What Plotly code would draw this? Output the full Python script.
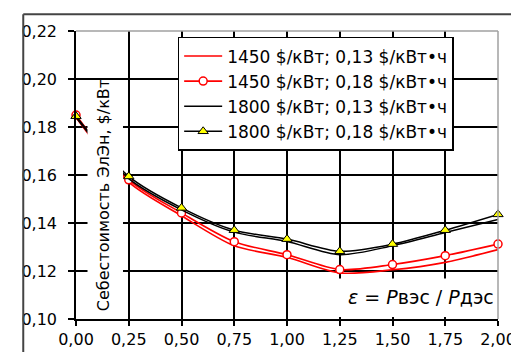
import plotly.graph_objects as go

x_vals = [0, 0.25, 0.5, 0.75, 1.0, 1.25, 1.5, 1.75, 2.0]
s_1450_013 = [0.184, 0.157, 0.143, 0.1305, 0.1257, 0.1192, 0.1205, 0.1236, 0.1289]
s_1450_018 = [0.185, 0.158, 0.1442, 0.1322, 0.1268, 0.1206, 0.1227, 0.1264, 0.1312]
s_1800_013 = [0.184, 0.1585, 0.1455, 0.1362, 0.1323, 0.1268, 0.1305, 0.136, 0.1415]
s_1800_018 = [0.1845, 0.1594, 0.1463, 0.137, 0.1333, 0.1282, 0.1312, 0.137, 0.1436]
names = ["1450 $/кВт; 0,13 $/кВт•ч", "1450 $/кВт; 0,18 $/кВт•ч",
         "1800 $/кВт; 0,13 $/кВт•ч", "1800 $/кВт; 0,18 $/кВт•ч"]
x_ticks = [0, 0.25, 0.5, 0.75, 1.0, 1.25, 1.5, 1.75, 2.0]
y_ticks = [0.10, 0.12, 0.14, 0.16, 0.18, 0.20, 0.22]
y_title = "Себестоимость ЭлЭн, $/кВт"

FONT = "DejaVu Sans"
W, H = 519, 352
L, R, T, B = 68, 11, 23, 38
PW, PH = W - L - R, H - T - B

def px(xp):
    return (xp - L) / PW

def py(yp):
    return (H - B - yp) / PH

fig = go.Figure()
fig.add_trace(go.Scatter(x=x_vals, y=s_1450_013, name=names[0], mode="lines", cliponaxis=False,
                         line=dict(color="#ff0000", width=1.6, shape="spline", smoothing=0.8)))
fig.add_trace(go.Scatter(x=x_vals, y=s_1450_018, name=names[1], mode="lines+markers", cliponaxis=False,
                         line=dict(color="#ff0000", width=1.6, shape="spline", smoothing=0.8),
                         marker=dict(symbol="circle", size=8, color="white",
                                     line=dict(color="#ff0000", width=1.5))))
fig.add_trace(go.Scatter(x=x_vals, y=s_1800_013, name=names[2], mode="lines", cliponaxis=False,
                         line=dict(color="#000000", width=1.5, shape="spline", smoothing=0.8)))
fig.add_trace(go.Scatter(x=x_vals, y=s_1800_018, name=names[3], mode="lines+markers", cliponaxis=False,
                         line=dict(color="#000000", width=1.5, shape="spline", smoothing=0.8),
                         marker=dict(symbol="triangle-up", size=9, color="#ffff00",
                                     line=dict(color="#000000", width=1))))

fig.update_layout(
    width=W, height=H,
    margin=dict(l=L, r=R, t=T, b=B, pad=0),
    paper_bgcolor="white", plot_bgcolor="white",
    separators=", ",
    font=dict(family=FONT, size=16, color="#000000"),
    showlegend=True,
    legend=dict(x=px(174), y=py(29), xanchor="left", yanchor="top",
                bgcolor="white", bordercolor="#000000", borderwidth=1.5,
                font=dict(family=FONT, size=17, color="#000000"),
                tracegroupgap=0, itemwidth=38),
    xaxis=dict(range=[0, 2], tickvals=x_ticks, tickformat=".2f",
               showgrid=True, gridcolor="#000000", gridwidth=1.5,
               showline=True, linecolor="#000000", linewidth=1.5,
               ticks="outside", ticklen=5, tickcolor="#000000", tickwidth=1.5,
               ticklabeloverflow="allow",
               zeroline=False, fixedrange=True),
    yaxis=dict(range=[0.10, 0.22], tickvals=y_ticks, tickformat=".2f",
               showgrid=True, gridcolor="#000000", gridwidth=1.5,
               showline=True, linecolor="#000000", linewidth=1.5,
               ticks="outside", ticklen=6, tickcolor="#000000", tickwidth=1.5,
               ticklabelstandoff=8, ticklabeloverflow="allow",
               zeroline=False, fixedrange=True),
    shapes=[
        dict(type="line", xref="paper", yref="paper", x0=0, x1=1, y0=1, y1=1,
             line=dict(color="#a0a0a0", width=1.5), layer="above"),
        dict(type="line", xref="paper", yref="paper", x0=1, x1=1, y0=0, y1=1,
             line=dict(color="#a0a0a0", width=1.5), layer="above"),
        dict(type="rect", xref="paper", yref="paper", x0=px(80), x1=px(117),
             y0=py(310), y1=py(73), fillcolor="white", line=dict(width=0), layer="above"),
        dict(type="rect", xref="paper", yref="paper", x0=px(333), x1=px(505),
             y0=py(312), y1=py(273), fillcolor="white", line=dict(width=0), layer="above"),
        dict(type="line", xref="paper", yref="paper", x0=px(13), x1=px(530), y0=py(6), y1=py(6),
             line=dict(color="#444444", width=2), layer="above"),
        dict(type="line", xref="paper", yref="paper", x0=px(13), x1=px(13), y0=py(6), y1=py(352),
             line=dict(color="#444444", width=2), layer="above"),
        dict(type="line", xref="paper", yref="paper", x0=px(13), x1=px(530), y0=py(350), y1=py(350),
             line=dict(color="#d0d0d0", width=1), layer="above"),
    ],
    annotations=[
        dict(text=y_title, xref="paper", yref="paper", x=px(96), y=py(189),
             xanchor="center", yanchor="middle", textangle=-90, showarrow=False,
             font=dict(family=FONT, size=16, color="#000000")),
        dict(text="<i>ε</i> = <i>P</i>вэс / <i>P</i>дэс",
             xref="paper", yref="paper", x=px(506), y=py(292),
             xanchor="right", yanchor="middle", showarrow=False,
             font=dict(family=FONT, size=19, color="#000000")),
    ],
)

fig.write_html("out.html")
